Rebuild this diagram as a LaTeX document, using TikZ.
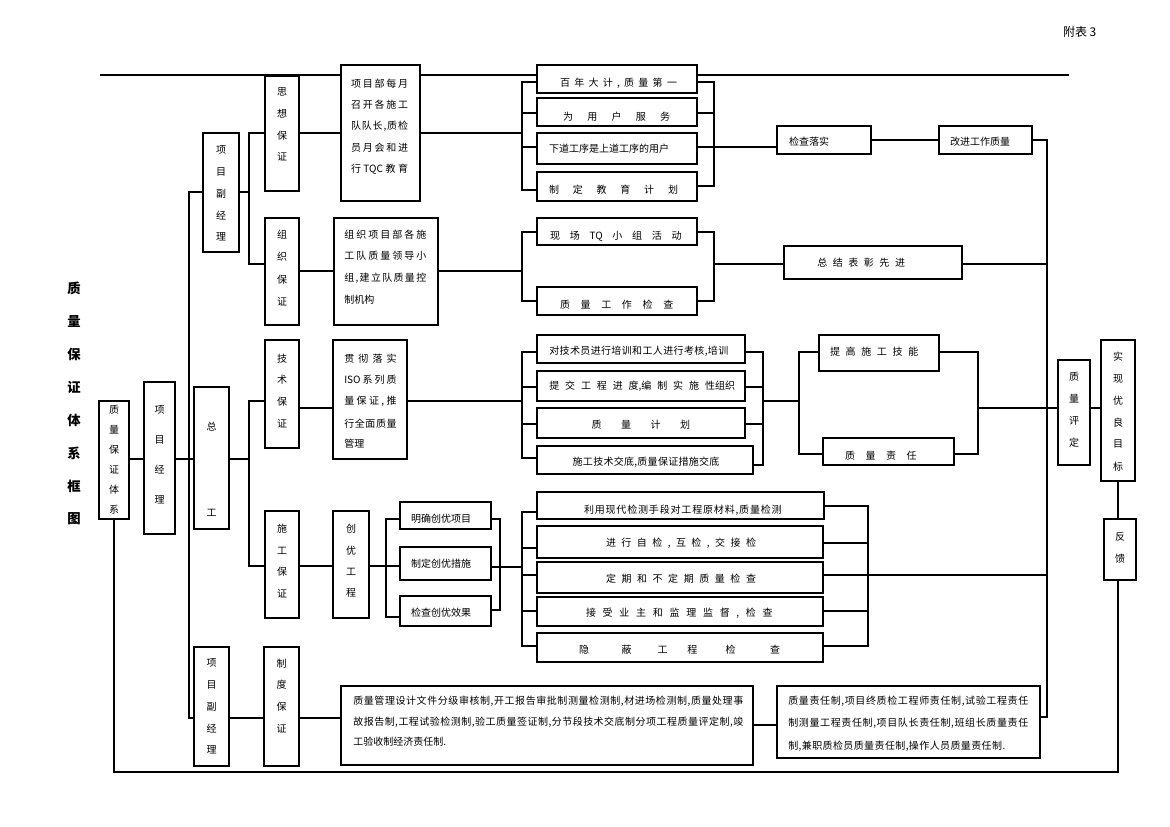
\documentclass[tikz,border=0pt]{standalone}
\usepackage{fontspec}
\newfontfamily\cjk{Noto Sans CJK SC}
\newdimen\pxu \pxu=0.75pt
\def\sprx#1{\ifx\relax#1\else\hfil#1\expandafter\sprx\fi}
\newcommand\spr[2]{\hbox to #1\pxu{\hskip 0pt plus -1fil\sprx#2\relax}}
\tikzset{
  box/.style={draw, line width=1pt, fill=white, inner sep=0pt, outer sep=0pt},
  txt/.style={inner sep=0pt, outer sep=0pt, font=\cjk\fontsize{7.5}{9}\selectfont},
  ttl/.style={inner sep=0pt, outer sep=0pt, font=\cjk\bfseries\fontsize{10}{12}\selectfont},
  ln/.style={line width=1pt},
}
\newcommand\bx[5]{\node[box, minimum width={(#4-#2)*\pxu}, minimum height={(#5-#3)*\pxu}] (#1) at ({(#2+#4)/2},{(#3+#5)/2}) {};}
\newcommand\vs[5]{\foreach \zc [count=\zi from 0] in {#5} \node[txt] (#1-\zi) at (#2,{#3+\zi*#4}) {\zc};}
\newcommand\hw[5]{\node[txt,anchor=west] (#1) at (#2,#3) {\spr{#4}{#5}};}
\newcommand\hn[4]{\node[txt,anchor=west] (#1) at (#2,#3) {#4};}
\begin{document}
\begin{tikzpicture}[x=0.75pt,y=-0.75pt]
\useasboundingbox (0,0) rectangle (1170,827);
% top rule
\coordinate (topL) at (100,75); \coordinate (topR) at (1069,75);
\draw[ln] (topL) -- (topR);
% boxes
\bx{zlbz}{99}{401}{129}{519}
\bx{xmjl}{144}{382}{175}{534}
\bx{zg}{194}{387}{229}{529}
\bx{fjl1}{203}{133}{239}{252}
\bx{fjl2}{194}{647}{229}{766}
\bx{sx}{265}{76}{299}{191}
\bx{zz}{265}{218}{299}{325}
\bx{js}{265}{340}{299}{448}
\bx{sg}{265}{511}{299}{618}
\bx{zd}{264}{647}{299}{766}
\bx{xmb}{341}{65}{420}{201}
\bx{zzxm}{334}{218}{438}{325}
\bx{gc}{333}{340}{407}{459}
\bx{cy}{333}{511}{369}{618}
\bx{mq}{400}{502}{491}{529}
\bx{zdcy}{400}{547}{491}{580}
\bx{jccy}{400}{596}{491}{626}
\bx{bn}{537}{65}{697}{93}
\bx{wy}{537}{98}{697}{126}
\bx{xd}{537}{133}{697}{164}
\bx{zdjy}{537}{172}{697}{201}
\bx{xc}{537}{218}{697}{245}
\bx{zlgz}{537}{287}{697}{315}
\bx{dj}{537}{335}{745}{363}
\bx{tj}{537}{371}{745}{401}
\bx{zljh}{537}{408}{745}{438}
\bx{sgjs}{537}{446}{753}{474}
\bx{ly}{537}{492}{824}{519}
\bx{jx}{537}{526}{823}{558}
\bx{dq}{537}{562}{823}{593}
\bx{jsy}{537}{597}{823}{626}
\bx{yb}{537}{633}{823}{662}
\bx{zlgl}{341}{686}{753}{765}
\bx{jcls}{777}{126}{871}{154}
\bx{gj}{939}{126}{1032}{154}
\bx{zj}{784}{246}{962}{279}
\bx{tg}{819}{335}{939}{371}
\bx{zlzr}{823}{438}{954}{465}
\bx{zlpd}{1058}{360}{1090}{465}
\bx{sxm}{1101}{340}{1135}{481}
\bx{fk}{1104}{519}{1136}{580}
\bx{zrz}{777}{686}{1040}{758}
% junction coordinates
\coordinate (sp1) at (189,192); \coordinate (sp2) at (189,718);
\coordinate (a0) at (249,192); \coordinate (a1) at (249,133); \coordinate (a2) at (249,264);
\coordinate (b0) at (522,133); \coordinate (b1) at (522,82); \coordinate (b2) at (522,113);
\coordinate (b3) at (522,147); \coordinate (b4) at (522,190);
\coordinate (c1) at (714,82); \coordinate (c2) at (714,113); \coordinate (c3) at (714,186);
\coordinate (d1) at (1047,140); \coordinate (d2) at (1047,717);
\coordinate (e0) at (522,271); \coordinate (e1) at (522,232); \coordinate (e2) at (522,301);
\coordinate (f0) at (714,264); \coordinate (f1) at (714,232); \coordinate (f2) at (714,301);
\coordinate (g0) at (249,459); \coordinate (g1) at (249,401); \coordinate (g2) at (249,566);
\coordinate (h0) at (333,408);
\coordinate (i0) at (522,401); \coordinate (i1) at (522,352); \coordinate (i2) at (522,387);
\coordinate (i3) at (522,424); \coordinate (i4) at (522,458);
\coordinate (j0) at (763,401); \coordinate (j1) at (763,352); \coordinate (j2) at (763,387);
\coordinate (j3) at (763,424); \coordinate (j4) at (763,465);
\coordinate (k0) at (799,401); \coordinate (k1) at (799,352); \coordinate (k2) at (799,454);
\coordinate (l0) at (978,408); \coordinate (l1) at (978,352); \coordinate (l2) at (978,454);
\coordinate (n1) at (1118,772);
\coordinate (q1) at (386,519); \coordinate (q2) at (386,617); \coordinate (q3) at (386,566);
\coordinate (r0) at (522,567); \coordinate (r1) at (500,519); \coordinate (r2) at (500,610);
\coordinate (s1) at (522,512); \coordinate (s2) at (522,548); \coordinate (s3) at (522,575);
\coordinate (s4) at (522,611); \coordinate (s5) at (522,646);
\coordinate (t1) at (868,506); \coordinate (t2) at (868,543); \coordinate (t3) at (868,575);
\coordinate (t4) at (868,611); \coordinate (t5) at (868,646);
\coordinate (v0) at (765,725);
% connectors
\draw[ln] (fjl1.west |- sp1) -- (sp1) -- (sp2) -- (fjl2.west |- sp2);
\draw[ln] (fjl1.east |- a0) -- (a0);
\draw[ln] (sx.west |- a1) -- (a1) -- (a2) -- (zz.west |- a2);
\draw[ln] (sx.east |- a1) -- (xmb.west |- a1);
\draw[ln] (xmb.east |- b0) -- (b0);
\draw[ln] (bn.west |- b1) -- (b1) -- (b4) -- (zdjy.west |- b4);
\draw[ln] (b2) -- (wy.west |- b2);
\draw[ln] (b3) -- (xd.west |- b3);
\draw[ln] (bn.east |- c1) -- (c1) -- (c3) -- (zdjy.east |- c3);
\draw[ln] (wy.east |- c2) -- (c2);
\draw[ln] (xd.east |- b3) -- (jcls.west |- b3);
\draw[ln] (jcls.east |- d1) -- (gj.west |- d1);
\draw[ln] (gj.east |- d1) -- (d1) -- (d2) -- (zrz.east |- d2);
\draw[ln] (zz.east |- e0) -- (zzxm.west |- e0);
\draw[ln] (zzxm.east |- e0) -- (e0);
\draw[ln] (xc.west |- e1) -- (e1) -- (e2) -- (zlgz.west |- e2);
\draw[ln] (xc.east |- f1) -- (f1) -- (f2) -- (zlgz.east |- f2);
\draw[ln] (f0) -- (zj.west |- f0);
\draw[ln] (zj.east |- f0) -- (d1 |- f0);
\draw[ln] (zlbz.east |- g0) -- (xmjl.west |- g0);
\draw[ln] (xmjl.east |- g0) -- (zg.west |- g0);
\draw[ln] (zg.east |- g0) -- (g0);
\draw[ln] (js.west |- g1) -- (g1) -- (g2) -- (sg.west |- g2);
\draw[ln] (js.east |- h0) -- (gc.west |- h0);
\draw[ln] (gc.east |- i0) -- (i0);
\draw[ln] (dj.west |- i1) -- (i1) -- (i4) -- (sgjs.west |- i4);
\draw[ln] (i2) -- (tj.west |- i2);
\draw[ln] (i3) -- (zljh.west |- i3);
\draw[ln] (dj.east |- j1) -- (j1) -- (j4) -- (sgjs.east |- j4);
\draw[ln] (tj.east |- j2) -- (j2);
\draw[ln] (zljh.east |- j3) -- (j3);
\draw[ln] (j0) -- (k0);
\draw[ln] (tg.west |- k1) -- (k1) -- (k2) -- (zlzr.west |- k2);
\draw[ln] (tg.east |- l1) -- (l1) -- (l2) -- (zlzr.east |- l2);
\draw[ln] (l0) -- (zlpd.west |- l0);
\draw[ln] (zlpd.east |- l0) -- (sxm.west |- l0);
\draw[ln] (sxm.south) -- (sxm.south |- fk.north);
\draw[ln] (fk.south -| n1) -- (n1) -- (zlbz.south |- n1) -- (zlbz.south);
\draw[ln] (sg.east |- g2) -- (cy.west |- g2);
\draw[ln] (cy.east |- q3) -- (q3);
\draw[ln] (mq.west |- q1) -- (q1) -- (q2) -- (jccy.west |- q2);
\draw[ln] (q3) -- (zdcy.west |- q3);
\draw[ln] (mq.east |- r1) -- (r1) -- (r2) -- (jccy.east |- r2);
\draw[ln] (zdcy.east |- r0) -- (r0);
\draw[ln] (ly.west |- s1) -- (s1) -- (s5) -- (yb.west |- s5);
\draw[ln] (s2) -- (jx.west |- s2);
\draw[ln] (s3) -- (dq.west |- s3);
\draw[ln] (s4) -- (jsy.west |- s4);
\draw[ln] (ly.east |- t1) -- (t1) -- (t5) -- (yb.east |- t5);
\draw[ln] (jx.east |- t2) -- (t2);
\draw[ln] (jsy.east |- t4) -- (t4);
\draw[ln] (dq.east |- t3) -- (d1 |- t3);
\draw[ln] (fjl2.east |- sp2) -- (zd.west |- sp2);
\draw[ln] (zd.east |- sp2) -- (zlgl.west |- sp2);
\draw[ln] (zlgl.east |- v0) -- (zrz.west |- v0);
% vertical texts
\vs{sxT}{282}{92.3}{21.5}{思,想,保,证}
\vs{zzT}{282}{235}{22.2}{组,织,保,证}
\vs{jsT}{282}{358.3}{21.7}{技,术,保,证}
\vs{sgT}{282}{529}{21.4}{施,工,保,证}
\vs{zdT}{281.5}{663.3}{21.7}{制,度,保,证}
\vs{f1T}{221}{150}{21.7}{项,目,副,经,理}
\vs{f2T}{211.5}{663.3}{21.7}{项,目,副,经,理}
\vs{zgT}{211.5}{426.7}{86.6}{总,工}
\vs{xmT}{159.5}{410}{30}{项,目,经,理}
\vs{zlT}{114}{410}{20}{质,量,保,证,体,系}
\vs{cyT}{351}{529}{21.4}{创,优,工,程}
\vs{pdT}{1074}{376.7}{21.9}{质,量,评,定}
\vs{sxmT}{1118}{356.7}{21.9}{实,现,优,良,目,标}
\vs{fkT}{1120}{536.7}{21.6}{反,馈}
\foreach \zc [count=\zi from 0] in {质,量,保,证,体,系,框,图}
  \node[ttl] (title-\zi) at (74,{288+\zi*33}) {\zc};
\node[txt, font=\cjk\fontsize{9}{11}\selectfont, anchor=west] (fubiao) at (1063,31.7) {附表 3};
% multi-line texts
\hw{xmb1}{351}{83.3}{57}{项目部每月}
\hw{xmb2}{351}{104.7}{57}{召开各施工}
\hw{xmb3}{351}{126}{57}{队队长,质检}
\hw{xmb4}{351}{147.3}{57}{员月会和进}
\hw{xmb5}{351}{168.7}{57}{行{TQC}教育}
\hw{zzxm1}{344.3}{234.3}{82}{组织项目部各施}
\hw{zzxm2}{344.3}{256}{82}{工队质量领导小}
\hw{zzxm3}{344.3}{278}{82}{组,建立队质量控}
\hn{zzxm4}{344.3}{299.7}{制机构}
\hw{gc1}{344.3}{358.3}{52.3}{贯彻落实}
\hw{gc2}{344.3}{380}{52.3}{{ISO}系列质}
\hw{gc3}{344.3}{401.7}{52.3}{量保证,推}
\hw{gc4}{344.3}{423.3}{52.3}{行全面质量}
\hn{gc5}{344.3}{443.3}{管理}
% single-line texts
\hw{bnT}{560}{83}{117}{百年大计,质量第一}
\hw{wyT}{563}{116.5}{107}{为用户服务}
\hn{xdT}{549}{149}{下道工序是上道工序的用户}
\hw{zdjyT}{549}{190}{129}{制定教育计划}
\hw{xcT}{550}{236}{131.7}{现场{TQ}小组活动}
\hw{zlgzT}{560}{304.3}{113.3}{质量工作检查}
\hn{jclsT}{789}{141.7}{检查落实}
\hn{gjT}{950}{141.7}{改进工作质量}
\hw{zjT}{817.3}{262.3}{87.7}{总结表彰先进}
\hw{tgT}{830}{351.7}{88.3}{提高施工技能}
\hw{zlzrT}{845}{456}{71.7}{质量责任}
\hw{djT}{549.3}{351.7}{179}{对技术员进行培训和工人进行考核,培训}
\hw{tjT}{549.3}{386.7}{185.7}{提交工程进{度,编}制实施{性组织}}
\hw{zljhT}{591.7}{424.3}{98.3}{质量计划}
\hw{sgjsT}{572.7}{462.3}{146.7}{施工技术交底,质量保证措施交底}
\hw{lyT}{584}{510.7}{197.7}{利用现代检测手段对工程原材料,质量检测}
\hw{jxT}{606}{543.3}{150}{进行自检,互检,交接检}
\hw{dqT}{606}{579}{150}{定期和不定期质量检查}
\hw{jsyT}{586}{613.3}{186.7}{接受业主和监理监督,检查}
\node[txt, anchor=west] (ybT) at (584,650) {\hbox{\makebox[0pt]{隐}\hskip42.7\pxu\makebox[0pt]{蔽}\hskip36\pxu\makebox[0pt]{工}\hskip29.6\pxu\makebox[0pt]{程}\hskip38.4\pxu\makebox[0pt]{检}\hskip44.3\pxu\makebox[0pt]{查}}};
\hn{mqT}{411}{518.5}{明确创优项目}
\hn{zdcyT}{411}{564}{制定创优措施}
\hn{jccyT}{411}{613}{检查创优效果}
\hw{zlgl1}{353.3}{701.7}{390}{质量管理设计文件分级审核制,开工报告审批制测量检测制,材进场检测制,质量处理事}
\hw{zlgl2}{353.3}{721.7}{390}{故报告制,工程试验检测制,验工质量签证制,分节段技术交底制分项工程质量评定制,竣}
\hn{zlgl3}{353.3}{741.7}{工验收制经济责任制.}
\hw{zrz1}{788.3}{701.7}{240}{质量责任制,项目终质检工程师责任制,试验工程责任}
\hw{zrz2}{788.3}{723.3}{240}{制测量工程责任制,项目队长责任制,班组长质量责任}
\hw{zrz3}{788.3}{746}{217}{制,兼职质检员质量责任制,操作人员质量责任制.}
\end{tikzpicture}
\end{document}
